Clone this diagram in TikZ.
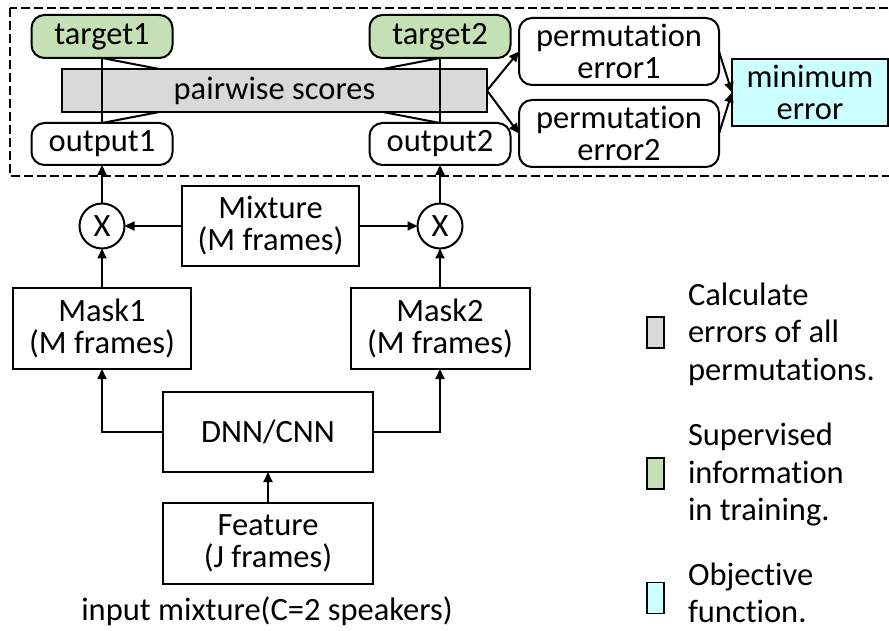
\documentclass[tikz,border=0pt]{standalone}
\usepackage{fontspec}
\setmainfont{Carlito}[Ligatures={NoCommon,NoContextual,NoRequired}]
\usetikzlibrary{arrows.meta}
\definecolor{supgreen}{HTML}{C5E0B4}
\definecolor{scoregray}{HTML}{D9D9D9}
\definecolor{objcyan}{HTML}{CCFFFF}
% keeps "t" and "i" as separate glyphs
\newcommand\sepTI{t\kern0pt i}
\begin{document}
\begin{tikzpicture}[x=1pt,y=-1pt,line width=2pt,
  every node/.style={font=\fontsize{32.5}{32}\selectfont,inner sep=0pt,outer sep=0pt},
  box/.style={draw,align=center},
  rbox/.style={box,rounded corners=13pt},
  link/.style={-{Triangle[length=10pt,width=9pt]}},
  mult/.style={draw,circle,minimum size=45pt},
  legendkey/.style={draw,line width=1.6pt,minimum width=17pt,minimum height=31pt},
  legendtext/.style={anchor=west,align=left,font=\fontsize{32.5}{37.5}\selectfont}]
\useasboundingbox (0,0) rectangle (889,631);

% training block (dashed frame, open to the right)
\draw[dash pattern=on 9pt off 4pt] (10,8) rectangle (905,176);

% targets and outputs
\node[rbox,fill=supgreen,minimum width=141pt,minimum height=43pt] (t1) at (102,36.5) {target1};
\node[rbox,fill=supgreen,minimum width=141pt,minimum height=43pt] (t2) at (440,36.5) {target2};
\node[rbox,fill=white,minimum width=141pt,minimum height=42pt] (o1) at (102,144) {output1};
\node[rbox,fill=white,minimum width=141pt,minimum height=42pt] (o2) at (440,144) {output2};

% crossed pairings, hidden behind the score bar
\draw (t1.south) -- (o2.north);
\draw (t2.south) -- (o1.north);

\node[box,fill=scoregray,minimum width=425pt,minimum height=43pt] (pw) at (274.5,90.5) {pairwise scores};

% straight pairings, drawn over the score bar
\draw (t1.south) -- (o1.north);
\draw (t2.south) -- (o2.north);

\node[rbox,minimum width=200pt,minimum height=67pt] (pe1) at (619,51.5) {permuta\sepTI on\\error1};
\node[rbox,minimum width=200pt,minimum height=67pt] (pe2) at (619,133.5) {permuta\sepTI on\\error2};
\node[box,fill=objcyan,minimum width=156pt,minimum height=67pt] (me) at (810,92.5) {minimum\\error};

\draw[link] (pw.east) -- (pe1.west);
\draw[link] (pw.east) -- (pe2.west);
\draw[link] (pe1.east) -- (me.west);
\draw[link] (pe2.east) -- (me.west);

% masking stage
\node[mult] (x1) at (102,226) {X};
\node[mult] (x2) at (440,226) {X};
\node[box,minimum width=177pt,minimum height=80pt] (mix) at (270.5,226) {Mixture\\(M frames)};
\node[box,minimum width=178pt,minimum height=81pt] (m1) at (102,328.5) {Mask1\\(M frames)};
\node[box,minimum width=179pt,minimum height=81pt] (m2) at (440,328.5) {Mask2\\(M frames)};

\draw[link] (x1.north) -- (o1.south);
\draw[link] (x2.north) -- (o2.south);
\draw[link] (mix.west) -- (x1.east);
\draw[link] (mix.east) -- (x2.west);
\draw[link] (m1.north) -- (x1.south);
\draw[link] (m2.north) -- (x2.south);

% network and input
\node[box,minimum width=210pt,minimum height=80pt] (dnn) at (268,432) {DNN/CNN};
\node[box,minimum width=210pt,minimum height=81pt] (feat) at (268,543.5) {Feature\\(J frames)};
\node[anchor=base] (cap) at (267,620) {input mixture(C=2 speakers)};

\draw[link] (dnn.west) -| (m1.south);
\draw[link] (dnn.east) -| (m2.south);
\draw[link] (feat.north) -- (dnn.south);

% legend
\node[legendkey,fill=scoregray] (k1) at (655.5,332.5) {};
\node[legendtext] (l1) at (688,334) {Calculate\\errors of all\\permuta\sepTI ons.};
\node[legendkey,fill=supgreen] (k2) at (655.5,473.5) {};
\node[legendtext] (l2) at (688,475) {Supervised\\informa\sepTI on\\in training.};
\node[legendkey,fill=objcyan] (k3) at (655.5,598) {};
\node[legendtext] (l3) at (688,593) {Objec\sepTI ve\\func\sepTI on.};
\end{tikzpicture}
\end{document}
